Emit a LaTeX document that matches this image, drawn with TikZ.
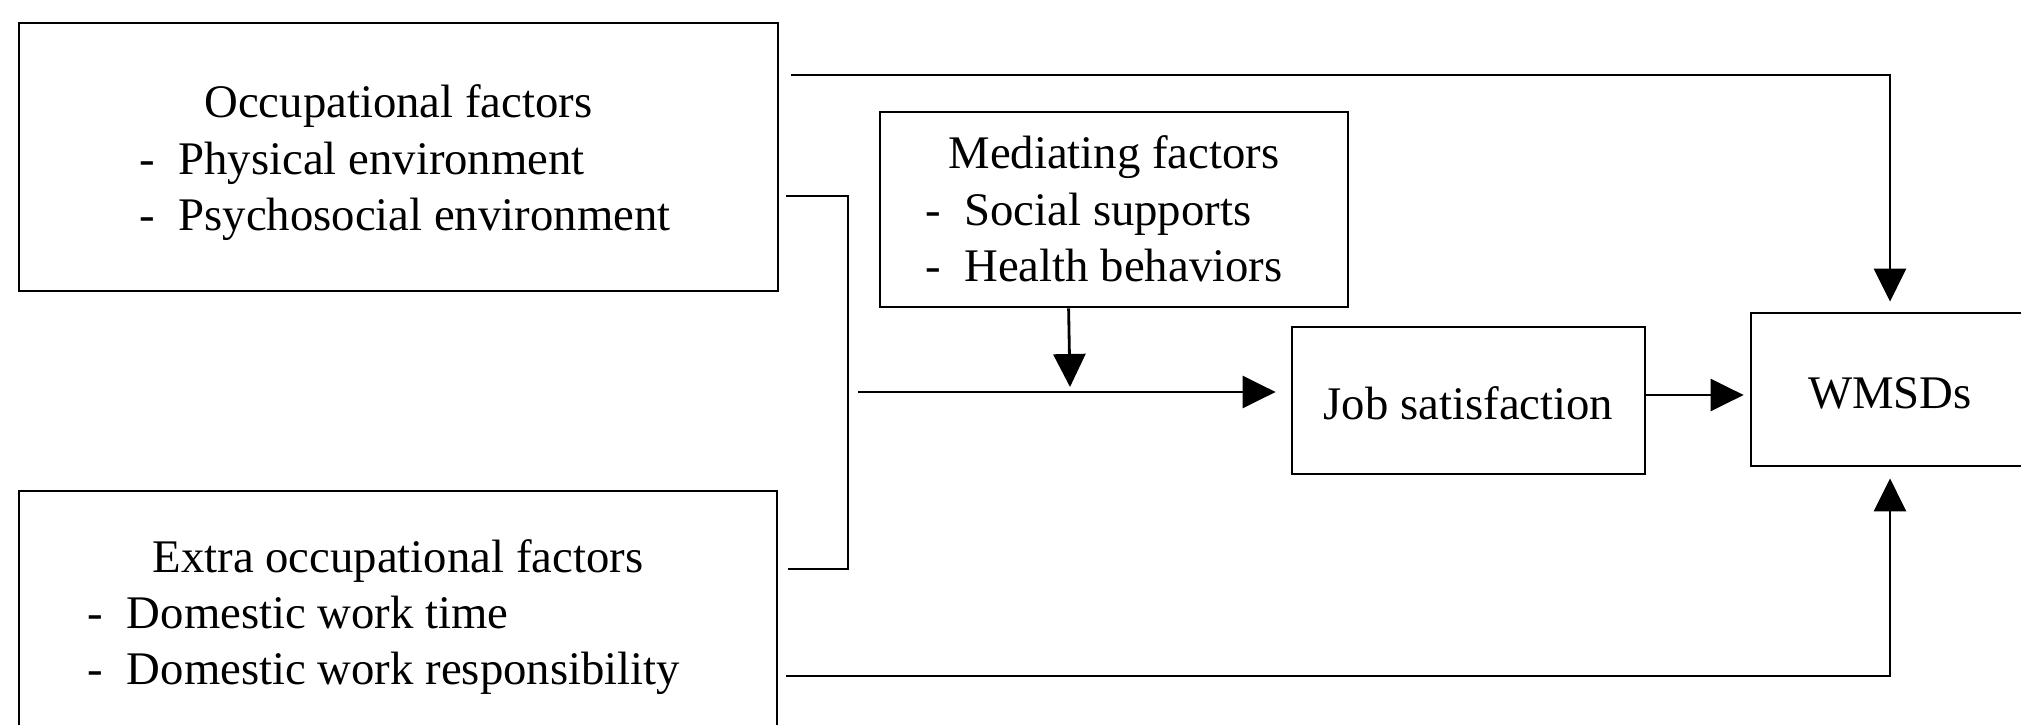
\documentclass[tikz,border=0pt]{standalone}
\usepackage{fontspec}
\setmainfont{Liberation Serif}
\usetikzlibrary{arrows.meta,calc}
\tikzset{
  box/.style={draw, line width=0.8pt, inner sep=0pt, font=\fontsize{13.3}{16}\selectfont},
  conn/.style={line width=0.8pt},
  arr/.style={conn, -{Triangle[length=3.3mm,width=3.2mm]}}
}
\newcommand{\itm}{-\hspace{0.5em}}
\begin{document}
\begin{tikzpicture}
\useasboundingbox (0,0) rectangle (20.21,7.24);
\clip (0,0) rectangle (20.21,7.24);
% boxes (text height/depth fix the baseline of the first line)
\node[box, minimum width=7.59cm, minimum height=2.68cm, text height=0.4cm, text depth=1.18cm] (occ) at (3.985,5.67)
  {\begin{tabular}[t]{@{\hspace{0.13cm}}l@{}}\multicolumn{1}{@{}c@{}}{Occupational factors}\\ \itm Physical environment\\ \itm Psychosocial environment\end{tabular}};
\node[box, minimum width=7.58cm, minimum height=2.50cm, text height=0.4cm, text depth=1.28cm] (ext) at (3.98,1.08)
  {\begin{tabular}[t]{@{}l@{\hspace{0.28cm}}}\multicolumn{1}{@{}c@{}}{Extra occupational factors}\\ \itm Domestic work time\\ \itm Domestic work responsibility\end{tabular}};
\node[box, minimum width=4.68cm, minimum height=1.95cm, text height=0.4cm, text depth=1.21cm] (med) at (11.14,5.145)
  {\begin{tabular}[t]{@{}l@{\hspace{0.2cm}}}\multicolumn{1}{@{}c@{}}{Mediating factors}\\ \itm Social supports\\ \itm Health behaviors\end{tabular}};
\node[box, minimum width=3.53cm, minimum height=1.47cm, text height=0.5cm, text depth=0.13cm] (job) at (14.685,3.235) {Job satisfaction};
\node[box, minimum width=2.78cm, minimum height=1.53cm, text height=0.5cm, text depth=0.13cm] (wmsd) at (18.90,3.345) {WMSDs};
% coordinates
\coordinate (t0) at (7.91,6.49);
\coordinate (b1) at (7.86,5.28);
\coordinate (bx) at (8.48,3.40);
\coordinate (b2) at (7.88,1.55);
\coordinate (m0) at (8.58,3.32);
\coordinate (ma) at ($(med.south west)+(1.90,0)$);
\coordinate (mt) at (10.70,3.37);
\coordinate (j0) at ($(job.east)+(0,0.055)$);
\coordinate (bb) at (7.86,0.48);
% connectors
\draw[arr, shorten >=0.10cm] (t0) -| (wmsd.north);
\draw[conn] (b1) -| (bx) |- (b2);
\draw[arr, shorten >=0.15cm] (m0) -- (m0 -| job.west);
\draw[arr] (ma) -- (mt);
\draw[arr, shorten >=0.06cm] (j0) -- (j0 -| wmsd.west);
\draw[arr, shorten >=0.11cm] (bb) -| (wmsd.south);
\end{tikzpicture}
\end{document}
